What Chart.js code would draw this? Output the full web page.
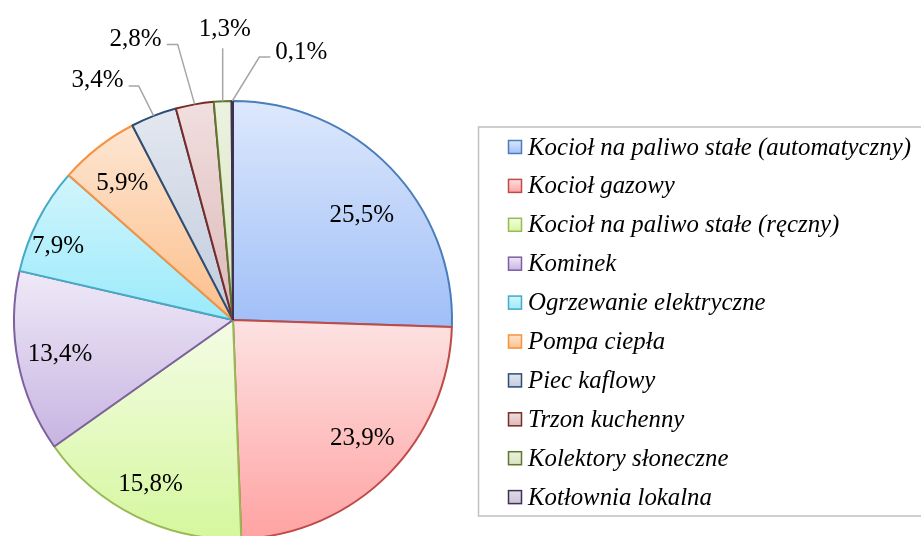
<!DOCTYPE html>
<html>
<head>
<meta charset="utf-8">
<script src="https://cdn.jsdelivr.net/npm/chart.js@4/dist/chart.umd.min.js"></script>
<style>
  html, body { margin: 0; padding: 0; background: #fff; }
  #wrap { width: 921px; height: 536px; overflow: hidden; position: relative; }
  canvas { display: block; }
</style>
</head>
<body>
<div id="wrap"><canvas id="pie" width="921" height="541"></canvas></div>
<script>
const labels = [
  'Kocioł na paliwo stałe (automatyczny)',
  'Kocioł gazowy',
  'Kocioł na paliwo stałe (ręczny)',
  'Kominek',
  'Ogrzewanie elektryczne',
  'Pompa ciepła',
  'Piec kaflowy',
  'Trzon kuchenny',
  'Kolektory słoneczne',
  'Kotłownia lokalna'
]
const shares = [25.5, 23.9, 15.8, 13.4, 7.9, 5.9, 3.4, 2.8, 1.3, 0.1]

// gradient top / bottom and outline per slice
const lightColors = ['#dde8fc', '#fde2e2', '#f4fce6', '#efe9f7', '#d2f5fc', '#fde6d3', '#e3e8f0', '#f1dfdf', '#ecf2e0', '#e0dce8']
const darkColors  = ['#a0bff7', '#ffa2a2', '#d5f79d', '#c7b4e1', '#9aeafb', '#fcbf8b', '#c1cbdc', '#dcb8b8', '#d6e3bc', '#c9c2d6']
const lineColors  = ['#4a7ebb', '#be4b48', '#98b954', '#7d60a0', '#46aac5', '#f69240', '#2c4d75', '#772c2a', '#5f7530', '#3f3151']

// small nudges (px) for the labels placed inside the slices
const insideNudge = { 0: [3, 17], 1: [5, -5], 2: [-5, 7], 3: [-1, 1], 4: [-19, 6], 5: [-3, 2] }

// callouts for the thin slices: elbow offset from the arc edge, then a short horizontal run
const callouts = {
  6: { dx: -15, dy: -30, run: -10 },
  7: { dx: -17, dy: -60, run: -11 },
  8: { dx: 0, dy: -53, run: 0 },
  9: { dx: 27, dy: -44, run: 11 }
}

const fmt = v => v.toFixed(1).replace('.', ',') + '%'

function sliceGradient(ctx) {
  const chart = ctx.chart
  const area = chart.chartArea
  const i = ctx.dataIndex
  if (!area) return lightColors[i]
  const cx = (area.left + area.right) / 2
  const cy = (area.top + area.bottom) / 2
  const r = Math.min(area.width, area.height) / 2
  const total = shares.reduce((a, b) => a + b, 0)
  const before = shares.slice(0, i).reduce((a, b) => a + b, 0)
  const a0 = -Math.PI / 2 + before / total * Math.PI * 2
  const a1 = a0 + shares[i] / total * Math.PI * 2
  let top = cy, bottom = cy
  for (let k = 0; k <= 60; k++) {
    const y = cy + r * Math.sin(a0 + (a1 - a0) * k / 60)
    top = Math.min(top, y)
    bottom = Math.max(bottom, y)
  }
  if (bottom - top < 1) bottom = top + 1
  const g = chart.ctx.createLinearGradient(0, top, 0, bottom)
  g.addColorStop(0, lightColors[i])
  g.addColorStop(1, darkColors[i])
  return g
}

const pieLabels = {
  id: 'pieLabels',
  afterDatasetsDraw(chart) {
    const ctx = chart.ctx
    const arcs = chart.getDatasetMeta(0).data
    ctx.save()
    ctx.font = '25px "Liberation Serif"'
    ctx.fillStyle = '#000'
    arcs.forEach((arc, i) => {
      const p = arc.getProps(['x', 'y', 'startAngle', 'endAngle', 'outerRadius'])
      const mid = (p.startAngle + p.endAngle) / 2
      const text = fmt(shares[i])
      const c = callouts[i]
      if (!c) {
        const d = p.outerRadius * 0.8
        const n = insideNudge[i] || [0, 0]
        ctx.textAlign = 'center'
        ctx.textBaseline = 'middle'
        ctx.fillText(text, p.x + Math.cos(mid) * d + n[0], p.y + Math.sin(mid) * d + n[1])
        return
      }
      const ax = p.x + Math.cos(mid) * p.outerRadius
      const ay = p.y + Math.sin(mid) * p.outerRadius
      const ex = ax + c.dx, ey = ay + c.dy
      const fx = ex + c.run
      ctx.strokeStyle = '#a6a6a6'
      ctx.lineWidth = 1.5
      ctx.beginPath()
      ctx.moveTo(ax, ay)
      ctx.lineTo(ex, ey)
      ctx.lineTo(fx, ey)
      ctx.stroke()
      ctx.textBaseline = 'middle'
      if (c.run < 0) {
        ctx.textAlign = 'right'
        ctx.fillText(text, fx - 5, ey - 5)
      } else if (c.run > 0) {
        ctx.textAlign = 'left'
        ctx.fillText(text, fx + 5, ey - 5)
      } else {
        ctx.textAlign = 'center'
        ctx.fillText(text, ex + 2, ey - 19)
      }
    })
    ctx.restore()
  }
}

const boxLegend = {
  id: 'boxLegend',
  afterDraw(chart) {
    const ctx = chart.ctx
    ctx.save()
    ctx.strokeStyle = '#c0c0c0'
    ctx.lineWidth = 1.5
    ctx.strokeRect(478.5, 127, 460, 389)
    ctx.font = 'italic 24.8px "Liberation Serif"'
    ctx.textAlign = 'left'
    ctx.textBaseline = 'middle'
    labels.forEach((lab, i) => {
      const y = 147 + i * 38.9
      const g = ctx.createLinearGradient(0, y - 7, 0, y + 7)
      g.addColorStop(0, lightColors[i])
      g.addColorStop(1, darkColors[i])
      ctx.fillStyle = g
      ctx.fillRect(508, y - 7, 14, 14)
      ctx.strokeStyle = lineColors[i]
      ctx.lineWidth = 1.5
      ctx.strokeRect(508.5, y - 6.5, 13, 13)
      ctx.fillStyle = '#000'
      ctx.fillText(lab, 528, y + 1)
    })
    ctx.restore()
  }
}

new Chart(document.getElementById('pie'), {
  type: 'pie',
  data: {
    labels: labels,
    datasets: [{
      data: shares,
      backgroundColor: sliceGradient,
      borderColor: lineColors,
      borderWidth: 2
    }]
  },
  options: {
    responsive: false,
    animation: false,
    devicePixelRatio: 1,
    layout: { padding: { left: 13, top: 100, right: 468, bottom: 1 } },
    plugins: {
      legend: { display: false },
      tooltip: { enabled: false }
    }
  },
  plugins: [pieLabels, boxLegend]
})
</script>
</body>
</html>
